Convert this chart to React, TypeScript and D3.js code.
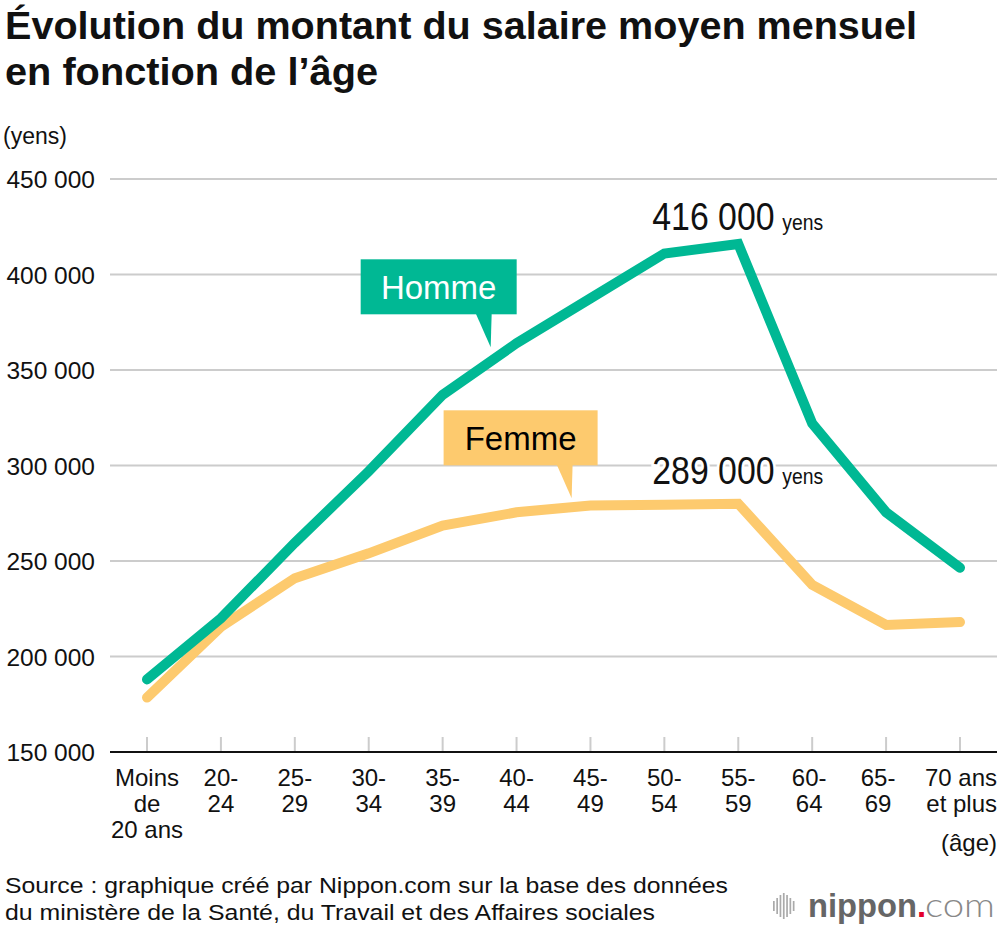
import React from "react";
import * as d3 from "d3";

const categories = [
  "Moins de 20 ans", "20-24", "25-29", "30-34", "35-39", "40-44",
  "45-49", "50-54", "55-59", "60-64", "65-69", "70 ans et plus",
];
const categoryLabelLines = [
  ["Moins", "de", "20 ans"], ["20-", "24"], ["25-", "29"], ["30-", "34"],
  ["35-", "39"], ["40-", "44"], ["45-", "49"], ["50-", "54"], ["55-", "59"],
  ["60-", "64"], ["65-", "69"], ["70 ans", "et plus"],
];
const hommeValues = [188000, 220000, 259500, 297000, 337000, 364000, 387500, 411000, 416000, 322000, 275500, 246500];
const femmeValues = [178500, 215500, 241000, 254000, 268500, 275500, 279000, 279500, 280000, 237500, 216500, 218000];
const yTicks = [150000, 200000, 250000, 300000, 350000, 400000, 450000];

const titleLines = ["Évolution du montant du salaire moyen mensuel", "en fonction de l’âge"];
const sourceLines = [
  "Source : graphique créé par Nippon.com sur la base des données",
  "du ministère de la Santé, du Travail et des Affaires sociales",
];
const logoBars = [10, 16, 22, 26, 22, 16, 10];

const GREEN = "#00b894";
const YELLOW = "#fdca6e";
const GRID = "#cccccc";
const FONT = "'Liberation Sans', Arial, Helvetica, sans-serif";

export default function App() {
  const x = d3.scalePoint<string>().domain(categories).range([147, 960]);
  const y = d3.scaleLinear().domain([150000, 450000]).range([752, 179]);
  const step = x.step();
  const fmt = (v: number) => d3.format(",")(v).replace(/,/g, " ");

  const line = d3
    .line<number>()
    .x((_, i) => x(categories[i]) as number)
    .y((d) => y(d));

  const along = (vals: number[], i: number, t: number) => {
    const x0 = x(categories[i]) as number;
    const y0 = y(vals[i]);
    const y1 = y(vals[i + 1]);
    return [x0 + t * step, y0 + t * (y1 - y0)];
  };

  const callouts = [
    { text: "Homme", vals: hommeValues, i: 4, t: 0.65, dy: -14, w: 156, h: 55, fill: GREEN, color: "#ffffff" },
    { text: "Femme", vals: femmeValues, i: 5, t: 0.745, dy: -9, w: 154, h: 55, fill: YELLOW, color: "#000000" },
  ];

  const peakIdx = 8;
  const peaks = [
    { label: "416 000", x: x(categories[peakIdx]) as number, y: y(hommeValues[peakIdx]) - 14 },
    { label: "289 000", x: x(categories[peakIdx]) as number, y: y(femmeValues[peakIdx]) - 20 },
  ];

  return (
    <svg
      width={1000}
      height={928}
      viewBox="0 0 1000 928"
      style={{ position: "absolute", left: 0, top: 0, background: "#fff" }}
      fontFamily={FONT}
    >
      <rect x={0} y={0} width={1000} height={928} fill="#fff" />
      {/* Title */}
      <text x={5} y={39} fontSize={39} fontWeight="bold" fill="#111" textLength={912} lengthAdjust="spacingAndGlyphs">
        {titleLines[0]}
      </text>
      <text x={5} y={85} fontSize={39} fontWeight="bold" fill="#111" textLength={373} lengthAdjust="spacingAndGlyphs">
        {titleLines[1]}
      </text>

      {/* Unit */}
      <text x={3} y={144} fontSize={23} fill="#111">(yens)</text>

      {/* Grid + y ticks */}
      {yTicks.map((v) => (
        <g key={v}>
          {v !== 150000 && (
            <line x1={110} x2={997} y1={y(v)} y2={y(v)} stroke={GRID} strokeWidth={2} />
          )}
          <text x={95} y={y(v) + 9} fontSize={24.5} textAnchor="end" fill="#111">
            {fmt(v)}
          </text>
        </g>
      ))}

      {/* X ticks */}
      {categories.map((c) => (
        <line key={c} x1={x(c)} x2={x(c)} y1={737} y2={751} stroke={GRID} strokeWidth={2} />
      ))}
      <line x1={110} x2={997} y1={752} y2={752} stroke="#111" strokeWidth={2} />

      {/* X labels */}
      {categories.map((c, i) => {
        const last = i === categories.length - 1;
        const shift = i === 10 ? -8 : i === 9 ? -3 : 0;
        return (
          <text
            key={c}
            x={last ? 997 : (x(c) as number) + shift}
            fontSize={24}
            textAnchor={last ? "end" : "middle"}
            fill="#111"
          >
            {categoryLabelLines[i].map((ln, j) => (
              <tspan key={j} x={last ? 997 : (x(c) as number) + shift} y={786 + j * 26}>
                {ln}
              </tspan>
            ))}
          </text>
        );
      })}
      <text x={997} y={851} fontSize={24} textAnchor="end" fill="#111">(âge)</text>

      {/* Lines */}
      <path d={line(femmeValues) || ""} fill="none" stroke={YELLOW} strokeWidth={10} strokeLinecap="round" strokeLinejoin="miter" />
      <path d={line(hommeValues) || ""} fill="none" stroke={GREEN} strokeWidth={10} strokeLinecap="round" strokeLinejoin="miter" />

      {/* Callouts */}
      {callouts.map((c) => {
        const [tx, ty0] = along(c.vals, c.i, c.t);
        const ty = ty0 + c.dy;
        const right = tx + 26;
        const bottom = ty - 33;
        const left = right - c.w;
        const top = bottom - c.h;
        return (
          <g key={c.text}>
            <rect x={left} y={top} width={c.w} height={c.h} fill={c.fill} />
            <path d={`M${tx - 15},${bottom - 1}L${tx + 1},${bottom - 1}L${tx},${ty}Z`} fill={c.fill} />
            <text x={(left + right) / 2} y={top + 40} fontSize={33} textAnchor="middle" fill={c.color}>
              {c.text}
            </text>
          </g>
        );
      })}

      {/* Peak annotations */}
      {peaks.map((p) => (
        <g key={p.label}>
          <text
            transform={`translate(${p.x - 86},${p.y}) scale(0.89,1)`}
            fontSize={38}
            fill="#111"
            stroke="#fff"
            strokeWidth={6}
            paintOrder="stroke"
          >
            {p.label}
          </text>
          <text transform={`translate(${p.x + 44},${p.y}) scale(0.88,1)`} fontSize={22} fill="#111">
            yens
          </text>
        </g>
      ))}

      {/* Source */}
      <text x={5} y={893} fontSize={22} fill="#111" textLength={723} lengthAdjust="spacingAndGlyphs">
        {sourceLines[0]}
      </text>
      <text x={5} y={920} fontSize={22} fill="#111" textLength={650} lengthAdjust="spacingAndGlyphs">
        {sourceLines[1]}
      </text>

      {/* Logo */}
      <g>
        {logoBars.map((h, i) => (
          <rect key={i} x={773 + i * 3.3} y={906 - h / 2} width={1.7} height={h} fill="#aaa" />
        ))}
        <text x={808} y={917} fontSize={33} fontWeight="bold" fill="#666" textLength={109} lengthAdjust="spacingAndGlyphs">
          nippon
        </text>
        <text x={917} y={917} fontSize={33} fontWeight="bold" fill="#e4002b">.</text>
        <text x={925} y={917} fontSize={33} fontWeight={300} fontFamily="Lato, 'Open Sans', sans-serif" fill="#888" textLength={70} lengthAdjust="spacingAndGlyphs">
          com
        </text>
      </g>
    </svg>
  );
}
